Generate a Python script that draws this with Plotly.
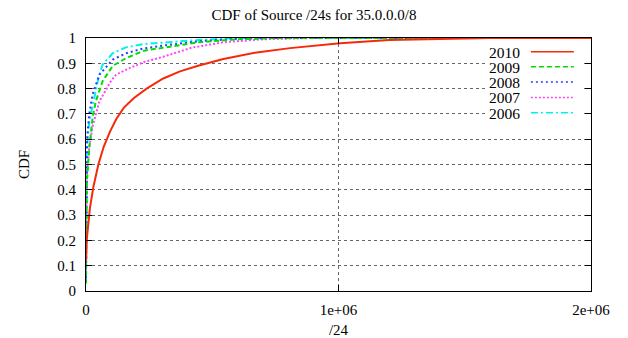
import plotly.graph_objects as go

# CDF samples of source /24 counts per year (x = number of /24s, y = cumulative fraction)
x_2010 = [0, 2600, 15800, 29000, 49000, 70000, 95000, 120000, 150000, 190000, 240000,
          306000, 372000, 444000, 544000, 676000, 808000, 1006000, 1200000, 1400000, 1600000, 2000000]
y_2010 = [0.12, 0.20, 0.33, 0.41, 0.50, 0.57, 0.63, 0.68, 0.725, 0.763, 0.80,
          0.84, 0.868, 0.89, 0.917, 0.943, 0.96, 0.979, 0.992, 0.997, 1.0, 1.0]

x_2009 = [0, 2600, 13000, 26000, 39000, 66000, 106000, 158000, 230000, 372000, 444000, 600000, 750000, 2000000]
y_2009 = [0.03, 0.42, 0.565, 0.684, 0.75, 0.83, 0.89, 0.92, 0.95, 0.97, 0.983, 0.995, 1.0, 1.0]

x_2008 = [0, 1500, 4000, 13000, 26000, 53000, 106000, 160000, 224000, 306000, 444000, 600000, 750000, 2000000]
y_2008 = [0.05, 0.50, 0.60, 0.70, 0.776, 0.855, 0.915, 0.94, 0.958, 0.97, 0.987, 0.997, 1.0, 1.0]

x_2007 = [0, 2600, 13000, 26000, 53000, 99000, 119000, 170000, 230000, 306000, 420000, 544000, 700000, 900000, 2000000]
y_2007 = [0.05, 0.45, 0.57, 0.65, 0.75, 0.83, 0.855, 0.88, 0.905, 0.926, 0.962, 0.983, 0.995, 1.0, 1.0]

x_2006 = [0, 2600, 13000, 37000, 50000, 66000, 106000, 158000, 230000, 444000, 600000, 2000000]
y_2006 = [0.05, 0.55, 0.67, 0.776, 0.845, 0.895, 0.94, 0.963, 0.976, 0.992, 1.0, 1.0]

years = ["2010", "2009", "2008", "2007", "2006"]
xs = [x_2010, x_2009, x_2008, x_2007, x_2006]
ys = [y_2010, y_2009, y_2008, y_2007, y_2006]
colors = ["#f52a0a", "#00dd00", "#2a3cff", "#ff44ff", "#00f0f0"]
dashes = ["solid", "5px,3px", "2px,3px", "2px,2px", "7px,3px,2px,3px"]

x_ticks = [0, 1000000, 2000000]
x_tick_text = ["0", "1e+06", "2e+06"]
y_ticks = [0, 0.1, 0.2, 0.3, 0.4, 0.5, 0.6, 0.7, 0.8, 0.9, 1.0]
y_tick_text = ["0", "0.1", "0.2", "0.3", "0.4", "0.5", "0.6", "0.7", "0.8", "0.9", "1"]

FONT = "Liberation Serif, Times New Roman, serif"
FS = 15

fig = go.Figure()
# draw oldest first so 2010 ends up on top
for yr, xv, yv, c, d in reversed(list(zip(years, xs, ys, colors, dashes))):
    fig.add_trace(go.Scatter(x=xv, y=yv, mode="lines", name=yr,
                             line=dict(color=c, width=2, dash=d), showlegend=False))

# key box in the upper right, text right-aligned with line samples after it
shapes = [dict(type="rect", xref="paper", yref="paper", x0=0.79, x1=0.986, y0=0.672, y1=0.984,
               fillcolor="white", line=dict(width=0), layer="above")]
annotations = []
key_y = [0.946, 0.886, 0.826, 0.765, 0.705]
for yr, c, d, ky in zip(years, colors, dashes, key_y):
    shapes.append(dict(type="line", xref="paper", yref="paper", x0=0.881, x1=0.966, y0=ky, y1=ky,
                       line=dict(color=c, width=1.5, dash=d), layer="above"))
    annotations.append(dict(text=yr, xref="paper", yref="paper", x=0.861, y=ky,
                            xanchor="right", yanchor="middle", showarrow=False,
                            height=14, borderpad=0,
                            font=dict(family=FONT, size=15.5, color="black")))

axis_common = dict(showline=True, linecolor="black", linewidth=1, mirror="ticks",
                   ticks="inside", ticklen=6, tickcolor="black", tickwidth=1,
                   showgrid=True, gridcolor="#666666", griddash="dot", gridwidth=1,
                   zeroline=False, automargin=False,
                   tickfont=dict(family=FONT, size=FS, color="black"))

fig.update_layout(
    width=628, height=338,
    margin=dict(l=86, r=37, t=38, b=47),
    paper_bgcolor="white", plot_bgcolor="white",
    font=dict(family=FONT, size=FS, color="black"),
    title=dict(text="CDF of Source /24s for 35.0.0.0/8", x=0.5, xanchor="center",
               y=0.955, yanchor="middle", yref="container",
               font=dict(family=FONT, size=15, color="black")),
    xaxis=dict(range=[0, 2000000], tickvals=x_ticks, ticktext=x_tick_text,
               ticklabelstandoff=5,
               title=dict(text="/24", standoff=12, font=dict(family=FONT, size=FS)),
               **axis_common),
    yaxis=dict(range=[0, 1], tickvals=y_ticks, ticktext=y_tick_text,
               ticklabelstandoff=6,
               title=dict(text="CDF", standoff=24, font=dict(family=FONT, size=FS)),
               **axis_common),
    shapes=shapes, annotations=annotations,
)

fig.write_html("out.html")
